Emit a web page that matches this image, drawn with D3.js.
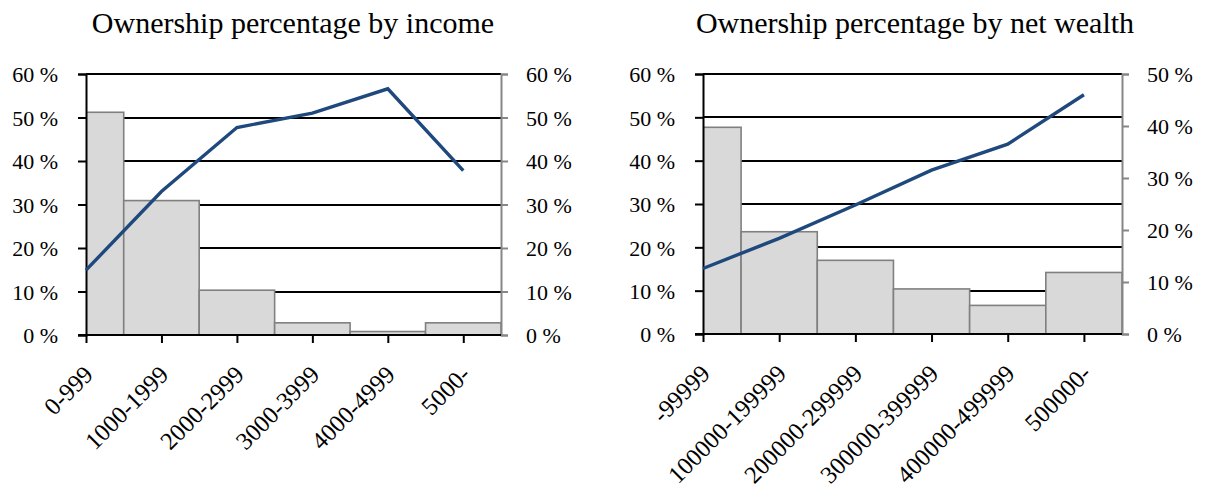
<!DOCTYPE html>
<html>
<head>
<meta charset="utf-8">
<script src="https://cdn.jsdelivr.net/npm/d3@7"></script>
<style>
  html, body { margin: 0; padding: 0; background: #fff; }
  svg { display: block; }
</style>
</head>
<body>
<svg id="chart" width="1208" height="500"></svg>
<script>
// Income brackets: share of households (bars, left axis) and ownership rate (line, right axis)
const incomeCategories = ["0-999", "1000-1999", "2000-2999", "3000-3999", "4000-4999", "5000-"];
const incomeShare = [51.2, 30.9, 10.3, 2.8, 0.8, 2.8];
const incomeOwnership = [14.9, 33.0, 47.7, 51.0, 56.6, 37.8];

// Net wealth brackets
const wealthCategories = ["-99999", "100000-199999", "200000-299999", "300000-399999", "400000-499999", "500000-"];
const wealthShare = [47.7, 23.6, 17.0, 10.4, 6.6, 14.2];
const wealthOwnership = [12.6, 18.4, 24.8, 31.5, 36.5, 46.0];

// Axis tick values (percent)
const leftTicks = [0, 10, 20, 30, 40, 50, 60];
const incomeRightTicks = [0, 10, 20, 30, 40, 50, 60];
const wealthRightTicks = [0, 10, 20, 30, 40, 50];

const FONT = '"Liberation Serif", "Times New Roman", Times, serif';
const svg = d3.select("#chart");
const pct = d => d + " %";

function styleText(sel, size) {
  sel.attr("font-family", null)
    .style("font-family", FONT)
    .style("font-size", size + "px")
    .attr("fill", "#000");
}

function drawPanel(cfg) {
  const { id, title, titleX, left, right, top, bottom, categories, share, ownership,
          leftMax, rightMax, rightTicks } = cfg;
  const g = svg.append("g");
  const n = categories.length;
  const step = (right - left) / (n - 0.5);

  const x = d3.scalePoint().domain(categories).range([left, left + step * (n - 1)]);
  const yL = d3.scaleLinear().domain([0, leftMax]).range([bottom, top]);
  const yR = d3.scaleLinear().domain([0, rightMax]).range([bottom, top]);

  // Title
  g.append("text")
    .attr("x", titleX).attr("y", 33)
    .attr("text-anchor", "middle")
    .text(title)
    .call(styleText, 30);

  // Horizontal gridlines
  g.append("g").selectAll("line").data(leftTicks.filter(t => t > 0)).join("line")
    .attr("x1", left).attr("x2", right)
    .attr("y1", d => Math.round(yL(d))).attr("y2", d => Math.round(yL(d)))
    .attr("stroke", "#000").attr("stroke-width", 1.8);

  // Bars, centred on each category and clipped to the plot area
  const clipId = "clip-" + id;
  g.append("clipPath").attr("id", clipId)
    .append("rect").attr("x", left).attr("y", top - 5)
    .attr("width", right - left).attr("height", bottom - top + 5);

  g.append("g").attr("clip-path", `url(#${clipId})`)
    .selectAll("rect").data(categories).join("rect")
    .attr("x", c => x(c) - step / 2)
    .attr("width", step)
    .attr("y", (c, i) => yL(share[i]))
    .attr("height", (c, i) => bottom - yL(share[i]))
    .attr("fill", "#d9d9d9")
    .attr("stroke", "#808080")
    .attr("stroke-width", 1.6);

  // Left axis
  const axL = g.append("g").attr("transform", `translate(${left},0)`)
    .call(d3.axisLeft(yL).tickValues(leftTicks).tickSize(8).tickPadding(20).tickFormat(pct));
  axL.attr("font-family", null).attr("font-size", null);
  axL.selectAll("path, line").attr("stroke", "#000").attr("stroke-width", 2);
  axL.selectAll("text").attr("dy", "0.36em").call(styleText, 22);

  // Right axis
  const axR = g.append("g").attr("transform", `translate(${right},0)`)
    .call(d3.axisRight(yR).tickValues(rightTicks).tickSize(7).tickPadding(18).tickFormat(pct));
  axR.attr("font-family", null).attr("font-size", null);
  axR.selectAll("path, line").attr("stroke", "#868686").attr("stroke-width", 2);
  axR.selectAll("text").attr("dy", "0.36em").call(styleText, 22);

  // Bottom axis with rotated category labels
  const axB = g.append("g").attr("transform", `translate(0,${bottom})`)
    .call(d3.axisBottom(x).tickSize(8).tickSizeOuter(0));
  axB.attr("font-family", null).attr("font-size", null);
  axB.select("path").attr("d", `M${left - 8},0H${right}`);
  axB.selectAll("path, line").attr("stroke", "#000").attr("stroke-width", 2);
  axB.selectAll("text")
    .attr("text-anchor", "end")
    .attr("x", null).attr("y", null).attr("dy", null)
    .attr("transform", "translate(8,41) rotate(-45)")
    .call(styleText, 24.5);

  // Ownership line (right axis)
  const line = d3.line()
    .x((c, i) => x(c))
    .y((c, i) => yR(ownership[i]));
  g.append("path").datum(categories)
    .attr("d", line)
    .attr("fill", "none")
    .attr("stroke", "#1f497d")
    .attr("stroke-width", 3.4);
}

drawPanel({
  id: "income", title: "Ownership percentage by income", titleX: 293,
  left: 86, right: 501, top: 74, bottom: 335,
  categories: incomeCategories, share: incomeShare, ownership: incomeOwnership,
  leftMax: 60, rightMax: 60, rightTicks: incomeRightTicks
});

drawPanel({
  id: "wealth", title: "Ownership percentage by net wealth", titleX: 915,
  left: 703, right: 1122, top: 74, bottom: 334,
  categories: wealthCategories, share: wealthShare, ownership: wealthOwnership,
  leftMax: 60, rightMax: 50, rightTicks: wealthRightTicks
});
</script>
</body>
</html>
